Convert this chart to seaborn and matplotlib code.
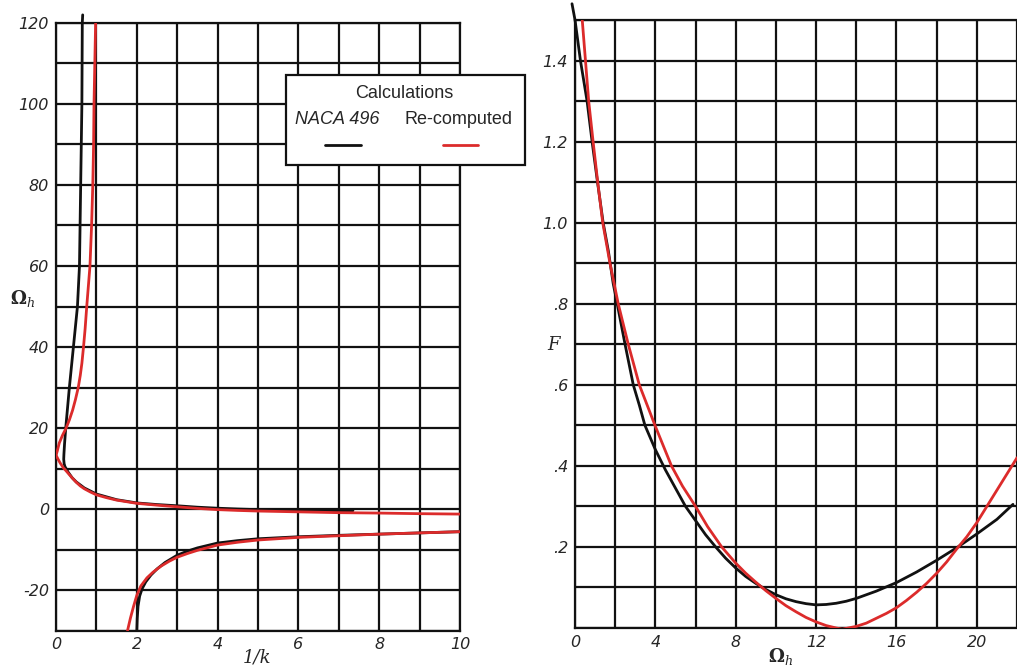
import numpy as np
import pandas as pd
import matplotlib
matplotlib.use("Agg")
import matplotlib.pyplot as plt
import seaborn as sns
from matplotlib.patches import Rectangle
from matplotlib.lines import Line2D
from matplotlib.ticker import MultipleLocator, FixedLocator

# ---------------- data ----------------
# Left panel: Omega_h versus 1/k
naca_upper_x = [0.66, 0.65, 0.64, 0.61, 0.58, 0.53, 0.43, 0.33, 0.24, 0.21, 0.195, 0.19, 0.20,
                0.22, 0.26, 0.30, 0.40, 0.50, 0.70, 1.0, 1.5, 2.0, 2.5, 3.0, 3.5, 4.0, 4.5,
                5.0, 6.0, 7.0, 7.35]
naca_upper_y = [122, 120, 100, 80, 60, 50, 40, 30, 20, 16, 13.5, 12.3, 11.2,
                10.5, 9.8, 9.1, 7.7, 6.7, 5.2, 3.7, 2.3, 1.5, 1.1, 0.8, 0.45, 0.2, 0.0,
                -0.15, -0.3, -0.4, -0.4]
naca_lower_x = [2.0, 2.01, 2.03, 2.07, 2.13, 2.22, 2.35, 2.5, 2.7, 3.0, 3.25, 3.5, 4.0, 4.5,
                5.0, 6.0, 7.0, 8.0, 9.0, 10.0]
naca_lower_y = [-30, -27, -24, -21.5, -19.7, -18, -16.3, -14.8, -13.2, -11.4, -10.4, -9.6, -8.4, -7.8,
                -7.35, -6.85, -6.5, -6.2, -5.9, -5.6]

recomp_upper_x = [0.98, 0.96, 0.94, 0.93, 0.91, 0.88, 0.84, 0.80, 0.76, 0.72, 0.68, 0.64, 0.60,
                  0.55, 0.48, 0.41, 0.33, 0.25, 0.16, 0.08, 0.03, 0.0, 0.05, 0.10, 0.18, 0.26, 0.38,
                  0.5, 0.6, 0.7, 0.85, 1.0, 1.25, 1.5, 1.75, 2.0, 2.5, 3.0, 3.5, 4.0, 4.5,
                  5.0, 6.0, 7.0, 8.0, 9.0, 10.0]
recomp_upper_y = [120, 110, 100, 90, 80, 70, 60, 55, 50, 44.5, 40, 36, 33,
                  30, 27, 24.4, 22, 20, 18.2, 16.3, 14.3, 13.3, 12.3, 11.4, 10.2, 9.3, 7.9,
                  6.6, 5.7, 5.0, 4.2, 3.5, 2.8, 2.2, 1.8, 1.4, 0.95, 0.55, 0.15, -0.15, -0.35,
                  -0.5, -0.7, -0.9, -1.0, -1.15, -1.25]
recomp_lower_x = [1.77, 1.84, 1.92, 2.0, 2.1, 2.25, 2.4, 2.6, 2.8, 3.0, 3.25, 3.5, 4.0, 4.5,
                  5.0, 6.0, 7.0, 8.0, 9.0, 10.0]
recomp_lower_y = [-30, -27, -24, -21.3, -19, -17, -15.6, -14.1, -12.9, -11.9, -11, -10.2, -8.9, -8.2,
                  -7.65, -7.0, -6.6, -6.2, -5.9, -5.6]

# Right panel: F versus Omega_h
naca_F_x = [-0.15, 0.0, 0.27, 0.6, 0.85, 1.12, 1.4, 1.66, 1.9, 2.1, 2.49, 2.9, 3.2, 3.48, 4.0,
            4.5, 5.0, 5.5, 6.0, 6.5, 7.0, 7.5, 8.0, 8.5, 9.0, 9.5, 10.0, 10.5, 11.0, 11.5,
            12.0, 12.5, 13.0, 13.5, 14.0, 15.0, 16.0, 17.0, 18.0, 19.0, 20.0, 21.0, 21.8]
naca_F_y = [1.54, 1.5, 1.4, 1.3, 1.2, 1.1, 1.0, 0.93, 0.85, 0.8, 0.7, 0.6, 0.55, 0.5, 0.44,
            0.39, 0.345, 0.30, 0.265, 0.23, 0.2, 0.172, 0.148, 0.127, 0.11, 0.095, 0.082, 0.072, 0.065, 0.06,
            0.057, 0.058, 0.061, 0.066, 0.073, 0.091, 0.112, 0.138, 0.167, 0.198, 0.232, 0.268, 0.305]
recomp_F_x = [0.36, 0.52, 0.68, 0.9, 1.13, 1.38, 1.74, 2.15, 2.65, 3.2, 3.98, 4.8, 5.35, 6.0,
              6.6, 7.3, 8.0, 8.5, 9.0, 9.5, 10.0, 10.5, 11.0, 11.5, 12.0, 12.5, 13.0, 13.3,
              13.6, 14.0, 14.5, 15.0, 15.5, 16.0, 16.5, 17.0, 17.5, 18.0, 18.5, 19.0, 19.5,
              20.0, 20.5, 21.0, 21.5, 22.0]
recomp_F_y = [1.5, 1.4, 1.3, 1.2, 1.1, 1.0, 0.9, 0.8, 0.7, 0.6, 0.5, 0.4, 0.35, 0.3,
              0.25, 0.2, 0.16, 0.135, 0.113, 0.092, 0.073, 0.055, 0.04, 0.026, 0.015, 0.006, 0.0, -0.003,
              0.0, 0.004, 0.012, 0.024, 0.036, 0.05, 0.068, 0.088, 0.11, 0.135, 0.163, 0.195, 0.225,
              0.26, 0.3, 0.34, 0.38, 0.42]

left_xticks = [0, 2, 4, 6, 8, 10]
left_yticks = [-20, 0, 20, 40, 60, 80, 100, 120]
left_yticklabels = ["-20", "0", "20", "40", "60", "80", "100", "120"]
right_xticks = [0, 4, 8, 12, 16, 20]
right_yticks = [0.2, 0.4, 0.6, 0.8, 1.0, 1.2, 1.4]
right_yticklabels = [".2", ".4", ".6", ".8", "1.0", "1.2", "1.4"]

legend_title = "Calculations"
legend_labels = ["NACA 496", "Re-computed"]

# ---------------- style ----------------
sns.set_style("white")
plt.rcParams["font.family"] = ["DejaVu Sans"]
plt.rcParams["mathtext.fontset"] = "dejavuserif"

BLACK = "#111111"
RED = "#dc2b2b"
LW = 2.0

fig = plt.figure(figsize=(10.17, 6.68), dpi=100)
axL = fig.add_axes([0.0551, 0.0561, 0.3972, 0.9095])
axR = fig.add_axes([0.5654, 0.0599, 0.4346, 0.9102])

def draw(ax, x, y, color, clip=True, z=3):
    df = pd.DataFrame({"x": x, "y": y})
    sns.lineplot(data=df, x="x", y="y", sort=False, estimator=None, color=color,
                 linewidth=LW, ax=ax, clip_on=clip, zorder=z)

draw(axL, naca_upper_x, naca_upper_y, BLACK, clip=False)
draw(axL, naca_lower_x, naca_lower_y, BLACK)
draw(axL, recomp_upper_x, recomp_upper_y, RED, z=4)
draw(axL, recomp_lower_x, recomp_lower_y, RED, z=4)

draw(axR, naca_F_x, naca_F_y, BLACK, clip=False)
draw(axR, recomp_F_x, recomp_F_y, RED, z=4)

tick_font = dict(fontsize=11.5, fontstyle="italic")

# Left axes
axL.set_xlim(0, 10)
axL.set_ylim(-30, 120)
axL.xaxis.set_major_locator(FixedLocator(left_xticks))
axL.xaxis.set_minor_locator(MultipleLocator(1))
axL.yaxis.set_major_locator(FixedLocator(left_yticks))
axL.yaxis.set_minor_locator(MultipleLocator(10))
axL.set_xticklabels([str(t) for t in left_xticks], **tick_font)
axL.set_yticklabels(left_yticklabels, **tick_font)
axL.set_xlabel("1/k", fontsize=13, fontstyle="italic", family="DejaVu Serif")
axL.set_ylabel(r"$\mathbf{\Omega}_h$", fontsize=13, rotation=0)
axL.xaxis.set_label_coords(0.4975, -0.03)
axL.xaxis.label.set_va("top")
axL.yaxis.set_label_coords(-0.084, 0.547)
axL.yaxis.label.set_va("center")
axL.yaxis.label.set_ha("center")

# Right axes
axR.set_xlim(0, 22)
axR.set_ylim(0, 1.5)
axR.xaxis.set_major_locator(FixedLocator(right_xticks))
axR.xaxis.set_minor_locator(MultipleLocator(2))
axR.yaxis.set_major_locator(FixedLocator(right_yticks))
axR.yaxis.set_minor_locator(MultipleLocator(0.1))
axR.set_xticklabels([str(t) for t in right_xticks], **tick_font)
axR.set_yticklabels(right_yticklabels, **tick_font)
axR.set_xlabel(r"$\mathbf{\Omega}_h$", fontsize=13)
axR.set_ylabel("F", fontsize=13, fontstyle="italic", family="DejaVu Serif", rotation=0)
axR.xaxis.set_label_coords(0.464, -0.03)
axR.xaxis.label.set_va("top")
axR.yaxis.set_label_coords(-0.048, 0.465)
axR.yaxis.label.set_va("center")
axR.yaxis.label.set_ha("center")

for ax in (axL, axR):
    ax.grid(True, which="both", color=BLACK, linewidth=1.6, zorder=1)
    ax.set_axisbelow(True)
    ax.tick_params(which="both", length=0, pad=5)
    for s in ax.spines.values():
        s.set_color(BLACK)
        s.set_linewidth(1.6)
axR.spines["right"].set_visible(False)

# ---------------- legend box (figure coordinates) ----------------
W, H = 1017.0, 668.0
def fx(px):
    return px / W
def fy(py):
    return 1 - py / H

box = Rectangle((fx(286), fy(165)), fx(525) - fx(286), fy(75) - fy(165),
                transform=fig.transFigure, facecolor="white", edgecolor=BLACK,
                linewidth=1.6, zorder=10)
fig.add_artist(box)
fig.text(fx(404), fy(93), legend_title, ha="center", va="center", fontsize=13,
         family="Liberation Sans", zorder=11)
fig.text(fx(337), fy(120), legend_labels[0], ha="center", va="center", fontsize=13,
         family="Liberation Sans", fontstyle="italic", zorder=11)
fig.text(fx(459), fy(120), legend_labels[1], ha="center", va="center", fontsize=13,
         family="Liberation Sans", zorder=11)
fig.add_artist(Line2D([fx(325), fx(361)], [fy(145), fy(145)], color=BLACK, linewidth=2,
                      transform=fig.transFigure, zorder=11))
fig.add_artist(Line2D([fx(443), fx(478)], [fy(145), fy(145)], color=RED, linewidth=2,
                      transform=fig.transFigure, zorder=11))

fig.savefig("out.png", dpi=100)
